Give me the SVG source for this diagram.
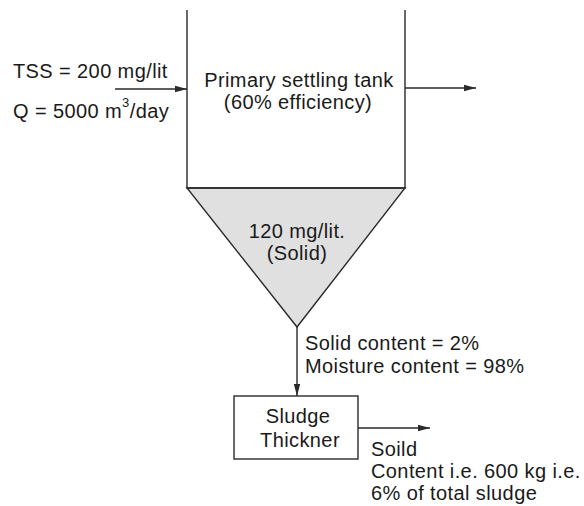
<svg xmlns="http://www.w3.org/2000/svg" width="584" height="506" viewBox="0 0 584 506">
<style>
  text { font-family: "Liberation Sans", Arial, sans-serif; font-size: 20px; letter-spacing: 0.4px; fill: #1a1a1a; }
  .c { text-anchor: middle; }
  .ln { stroke: #2a2a2a; stroke-width: 1.4; fill: none; }
</style>
<defs>
  <marker id="ah" viewBox="0 0 12 8" refX="12" refY="4" markerWidth="12" markerHeight="8" markerUnits="userSpaceOnUse" orient="auto">
    <path d="M0,0.8 L12,4 L0,7.2 Z" fill="#2a2a2a"/>
  </marker>
</defs>
<rect width="584" height="506" fill="#ffffff"/>

<g id="tank">
  <polygon points="187,188 405,188 297,327" fill="#e0e0e0" stroke="#2a2a2a" stroke-width="1.4" stroke-linejoin="miter"/>
  <path class="ln" d="M187,10 V188 H405 V10"/>
  <text class="c" x="299" y="87">Primary settling tank</text>
  <text class="c" x="298" y="109">(60% efficiency)</text>
  <text class="c" x="297" y="238">120 mg/lit.</text>
  <text class="c" x="297" y="260">(Solid)</text>
</g>

<g id="thickener">
  <rect x="234" y="396" width="124" height="63" fill="#ffffff" stroke="#2a2a2a" stroke-width="1.4"/>
  <text class="c" x="298" y="423">Sludge</text>
  <text class="c" x="300" y="447">Thickner</text>
</g>

<g id="connectors">
  <line class="ln" x1="115" y1="89" x2="187" y2="89" marker-end="url(#ah)"/>
  <line class="ln" x1="405" y1="88" x2="476" y2="88" marker-end="url(#ah)"/>
  <line class="ln" x1="297" y1="327" x2="297" y2="396" marker-end="url(#ah)"/>
  <line class="ln" x1="358" y1="428" x2="430" y2="428" marker-end="url(#ah)"/>
</g>

<g id="labels">
  <text x="13" y="78">TSS = 200 mg/lit</text>
  <text x="13" y="118">Q = 5000 m<tspan dy="-11" font-size="13">3</tspan><tspan dy="11">/day</tspan></text>
  <text x="305" y="350">Solid content = 2%</text>
  <text x="305" y="373">Moisture content = 98%</text>
  <text x="371" y="456">Soild</text>
  <text x="371" y="478">Content i.e. 600 kg i.e.</text>
  <text x="371" y="500">6% of total sludge</text>
</g>
</svg>
